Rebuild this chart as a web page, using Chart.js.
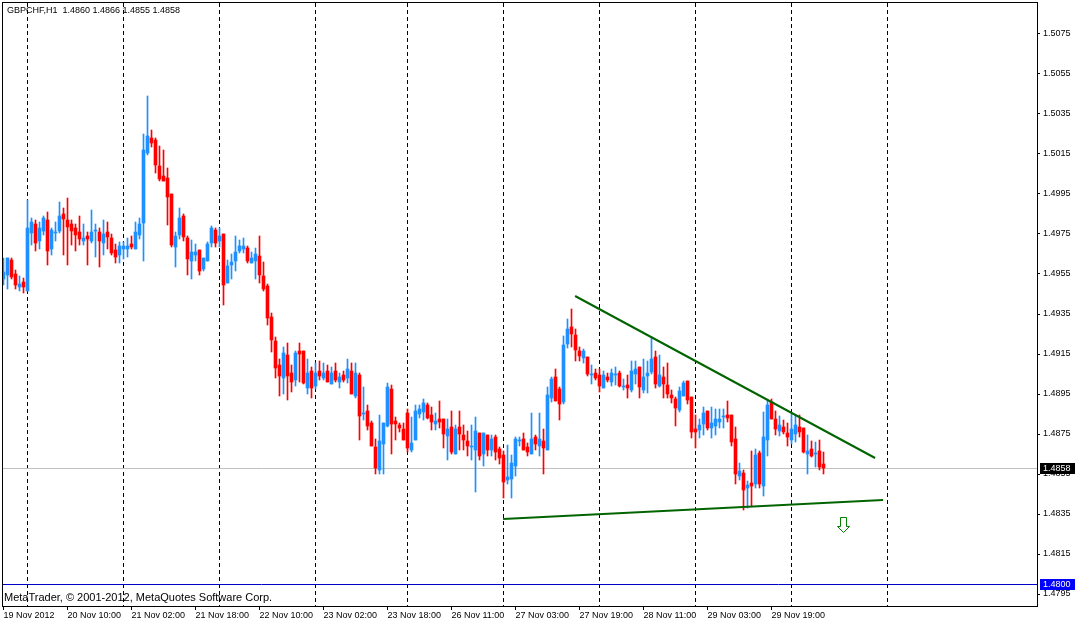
<!DOCTYPE html>
<html>
<head>
<meta charset="utf-8">
<script src="https://cdn.jsdelivr.net/npm/chart.js@4.4.1/dist/chart.umd.min.js"></script>
<style>
  html, body { margin: 0; padding: 0; background: #fff; }
  #wrap { width: 1075px; height: 623px; }
</style>
</head>
<body>
<div id="wrap"><canvas id="chart" width="1075" height="623"></canvas></div>
<script>
// GBPCHF H1 bars, oldest first (bar 0 = 19 Nov 18:00)
const openPrices = [
  1.49525, 1.49545, 1.4962, 1.4955, 1.49485, 1.4951, 1.49465, 1.49755, 1.4980, 1.49715,
  1.49765, 1.4982, 1.49675, 1.49755, 1.49765, 1.4985, 1.4982, 1.4980, 1.4978, 1.4976,
  1.49715, 1.4974, 1.49715, 1.49765, 1.4976, 1.49705, 1.4976, 1.4973, 1.4967, 1.49645,
  1.49675, 1.49675, 1.4970, 1.49675, 1.49745, 1.49805, 1.50155, 1.5023, 1.5022, 1.5009,
  1.5004, 1.5003, 1.4995, 1.49685, 1.49745, 1.4984, 1.4973, 1.49615, 1.49645, 1.4967,
  1.49575, 1.49615, 1.49705, 1.4977, 1.49715, 1.4975, 1.49505, 1.49595, 1.49615, 1.49665,
  1.49675, 1.4968, 1.49605, 1.49615, 1.4964, 1.4954, 1.4949, 1.49335, 1.49215, 1.49095,
  1.4903, 1.49145, 1.49055, 1.4902, 1.49165, 1.49165, 1.4898, 1.49065, 1.4899, 1.49065,
  1.4903, 1.49065, 1.4900, 1.49065, 1.4901, 1.49045, 1.4903, 1.49065, 1.4894, 1.49045,
  1.4885, 1.48865, 1.48805, 1.48685, 1.4857, 1.4870, 1.4879, 1.48975, 1.48815, 1.48795,
  1.48775, 1.48855, 1.4867, 1.4872, 1.4885, 1.4886, 1.48895, 1.48845, 1.4880, 1.48825,
  1.48825, 1.4874, 1.48785, 1.4865, 1.48785, 1.48745, 1.48715, 1.48685, 1.4867, 1.48755,
  1.4865, 1.48745, 1.4867, 1.48735, 1.48675, 1.48645, 1.4852, 1.48525, 1.4859, 1.48715,
  1.48725, 1.48685, 1.4865, 1.48735, 1.4869, 1.48715, 1.4867, 1.4893, 1.49035, 1.48975,
  1.4891, 1.4920, 1.49285, 1.49245, 1.49165, 1.4913, 1.49135, 1.49045, 1.49055, 1.49045,
  1.4898, 1.49035, 1.4901, 1.49045, 1.49055, 1.48985, 1.48995, 1.4897, 1.4905, 1.49085,
  1.4897, 1.4904, 1.4906, 1.49135, 1.4899, 1.49035, 1.48995, 1.48945, 1.48925, 1.4887,
  1.4894, 1.49015, 1.48935, 1.48775, 1.4877, 1.4880, 1.48865, 1.4878, 1.4879, 1.4881,
  1.48835, 1.48845, 1.48845, 1.48725, 1.4854, 1.48555, 1.4848, 1.48505, 1.4850, 1.48655,
  1.4849, 1.4872, 1.4891, 1.48825, 1.48765, 1.48785, 1.48755, 1.4872, 1.4875, 1.48785,
  1.4878, 1.4865, 1.48675, 1.4865, 1.48665, 1.4860
];
const highPrices = [
  1.4963, 1.4963, 1.4963, 1.4957, 1.4954, 1.4953, 1.4992, 1.4983, 1.4982, 1.4981,
  1.4984, 1.4986, 1.4978, 1.4981, 1.4991, 1.4988, 1.4993, 1.4982, 1.4980, 1.4984,
  1.4980, 1.4976, 1.4987, 1.4980, 1.4978, 1.4982, 1.4981, 1.4975, 1.4970, 1.4971,
  1.4971, 1.4973, 1.4974, 1.4981, 1.4983, 1.5025, 1.5044, 1.5027, 1.5023, 1.5019,
  1.5017, 1.5008, 1.4995, 1.4976, 1.4988, 1.4985, 1.4974, 1.4972, 1.4970, 1.4967,
  1.4963, 1.4971, 1.4979, 1.4978, 1.4978, 1.4975, 1.4962, 1.4965, 1.4974, 1.4972,
  1.4973, 1.4969, 1.4966, 1.4968, 1.4974, 1.4961, 1.4950, 1.49355, 1.49235, 1.49125,
  1.49185, 1.49205, 1.49095, 1.49165, 1.49205, 1.49165, 1.49125, 1.49085, 1.49105, 1.49115,
  1.49105, 1.49095, 1.49085, 1.49105, 1.49055, 1.49065, 1.49125, 1.49105, 1.49105, 1.49055,
  1.48985, 1.48895, 1.48815, 1.48725, 1.48845, 1.48805, 1.49005, 1.48995, 1.48835, 1.48805,
  1.48805, 1.48875, 1.48835, 1.48895, 1.48895, 1.48925, 1.48905, 1.48885, 1.48855, 1.48915,
  1.48825, 1.48825, 1.48865, 1.48795, 1.48865, 1.48795, 1.48765, 1.48795, 1.48835, 1.48755,
  1.48755, 1.48745, 1.48745, 1.48745, 1.48685, 1.48665, 1.48695, 1.48645, 1.48735, 1.48735,
  1.48755, 1.48705, 1.48855, 1.48745, 1.48855, 1.48775, 1.48985, 1.49035, 1.49075, 1.48985,
  1.4924, 1.49325, 1.49375, 1.49275, 1.49185, 1.49175, 1.49135, 1.49095, 1.49075, 1.49075,
  1.49065, 1.49055, 1.49075, 1.49085, 1.49065, 1.49025, 1.49045, 1.49115, 1.49115, 1.49085,
  1.49125, 1.49115, 1.49235, 1.49165, 1.49145, 1.49085, 1.49105, 1.4897, 1.48935, 1.48985,
  1.49015, 1.49015, 1.48935, 1.48845, 1.48825, 1.48885, 1.48865, 1.48885, 1.48875, 1.48875,
  1.48875, 1.48915, 1.48845, 1.48785, 1.48605, 1.4857, 1.48515, 1.48665, 1.48675, 1.48665,
  1.4886, 1.4892, 1.48925, 1.48865, 1.4884, 1.4882, 1.48805, 1.4885, 1.48845, 1.48845,
  1.4878, 1.48745, 1.48715, 1.4871, 1.4872, 1.4866
];
const lowPrices = [
  1.49495, 1.49475, 1.49525, 1.49475, 1.49465, 1.49455, 1.49465, 1.49695, 1.49665, 1.49675,
  1.49745, 1.49595, 1.49645, 1.49715, 1.49755, 1.49645, 1.49595, 1.49695, 1.49665, 1.49695,
  1.49695, 1.49595, 1.49705, 1.49635, 1.49585, 1.49645, 1.49675, 1.49645, 1.49605, 1.49605,
  1.49625, 1.49635, 1.49675, 1.49675, 1.49725, 1.49615, 1.50145, 1.50185, 1.50055, 1.50015,
  1.50015, 1.49795, 1.49685, 1.49585, 1.49725, 1.49715, 1.49545, 1.49525, 1.49615, 1.49545,
  1.49565, 1.49615, 1.49685, 1.49685, 1.49685, 1.49395, 1.49505, 1.49525, 1.49565, 1.49655,
  1.49655, 1.49605, 1.49605, 1.49525, 1.49505, 1.49465, 1.49295, 1.4916, 1.4903, 1.4894,
  1.4895, 1.4892, 1.4896, 1.4899, 1.4901, 1.4900, 1.4895, 1.4893, 1.48975, 1.4902,
  1.4902, 1.4901, 1.4900, 1.4901, 1.4898, 1.4901, 1.49005, 1.4895, 1.4893, 1.4872,
  1.4882, 1.4877, 1.4869, 1.4855, 1.4855, 1.4855, 1.48785, 1.4865, 1.4872, 1.4876,
  1.4872, 1.4866, 1.4866, 1.4872, 1.4883, 1.4882, 1.48825, 1.4877, 1.4877, 1.4878,
  1.4868, 1.4862, 1.4865, 1.4865, 1.4867, 1.4867, 1.4864, 1.4862, 1.4846, 1.4862,
  1.4859, 1.4864, 1.4864, 1.4862, 1.4860, 1.4843, 1.4850, 1.4843, 1.4854, 1.4869,
  1.4867, 1.4864, 1.4865, 1.4867, 1.4864, 1.4855, 1.4867, 1.4891, 1.48915, 1.4882,
  1.4890, 1.4918, 1.49185, 1.49115, 1.49115, 1.49105, 1.4904, 1.4900, 1.4902, 1.4896,
  1.4898, 1.4901, 1.4899, 1.48995, 1.48985, 1.4897, 1.4893, 1.4896, 1.4900, 1.4893,
  1.48955, 1.48955, 1.4905, 1.4898, 1.48985, 1.4893, 1.4893, 1.48905, 1.4879, 1.4886,
  1.4894, 1.4890, 1.4873, 1.4868, 1.4873, 1.48745, 1.4877, 1.4873, 1.48745, 1.4878,
  1.4878, 1.4881, 1.4869, 1.4850, 1.4852, 1.4837, 1.4838, 1.4839, 1.4848, 1.4848,
  1.4844, 1.4864, 1.48825, 1.48745, 1.4874, 1.4875, 1.4869, 1.4870, 1.4871, 1.48735,
  1.48655, 1.4855, 1.48635, 1.48585, 1.4857, 1.4855
];
const closePrices = [
  1.4956, 1.4963, 1.49535, 1.49495, 1.4950, 1.49485, 1.4978, 1.4981, 1.49705, 1.4978,
  1.4983, 1.49665, 1.4977, 1.4976, 1.4984, 1.49825, 1.49785, 1.49765, 1.49745, 1.49725,
  1.4973, 1.49725, 1.4976, 1.4977, 1.49715, 1.4975, 1.49735, 1.49655, 1.49635, 1.4969,
  1.4969, 1.4969, 1.49685, 1.4976, 1.4980, 1.5017, 1.5024, 1.50205, 1.50095, 1.50025,
  1.50015, 1.49935, 1.49695, 1.4974, 1.4983, 1.49735, 1.49625, 1.4966, 1.4966, 1.49565,
  1.4963, 1.4970, 1.4978, 1.49705, 1.4974, 1.49495, 1.4959, 1.4961, 1.4966, 1.4969,
  1.4969, 1.49615, 1.4963, 1.4965, 1.49545, 1.49475, 1.4933, 1.4922, 1.4908, 1.4904,
  1.49155, 1.4904, 1.4901, 1.49155, 1.4915, 1.49005, 1.49055, 1.4898, 1.49055, 1.4904,
  1.49055, 1.4901, 1.49055, 1.4902, 1.49035, 1.4902, 1.49075, 1.4895, 1.49055, 1.4884,
  1.48855, 1.4879, 1.4869, 1.4858, 1.48715, 1.48805, 1.48985, 1.4880, 1.4880, 1.4878,
  1.4872, 1.4868, 1.48705, 1.48865, 1.48875, 1.48905, 1.4883, 1.4881, 1.48815, 1.4881,
  1.4875, 1.48775, 1.4866, 1.48775, 1.4875, 1.4872, 1.4869, 1.48685, 1.48765, 1.4864,
  1.48755, 1.4867, 1.48725, 1.4866, 1.4863, 1.4851, 1.48535, 1.48605, 1.48725, 1.48715,
  1.4867, 1.4866, 1.48725, 1.4870, 1.48725, 1.4868, 1.48945, 1.49025, 1.48915, 1.4890,
  1.49195, 1.49275, 1.4925, 1.4917, 1.4914, 1.49165, 1.4905, 1.49045, 1.4903, 1.4899,
  1.49045, 1.4902, 1.49055, 1.49045, 1.4899, 1.48985, 1.4898, 1.49065, 1.49075, 1.48985,
  1.49035, 1.49055, 1.49125, 1.4900, 1.49045, 1.4900, 1.4895, 1.4893, 1.4888, 1.48965,
  1.49005, 1.4892, 1.4876, 1.4876, 1.48795, 1.48855, 1.4878, 1.48805, 1.48825, 1.48825,
  1.48835, 1.4883, 1.4871, 1.4855, 1.48565, 1.4847, 1.48495, 1.4849, 1.48645, 1.4850,
  1.48735, 1.48895, 1.48825, 1.48775, 1.48795, 1.4876, 1.48735, 1.48775, 1.48795, 1.4876,
  1.4866, 1.48665, 1.4864, 1.48655, 1.48585, 1.4858
];

// time axis: bar index of each label, and the label text
const tickBars = [0, 16, 32, 48, 64, 80, 96, 112, 128, 144, 160, 176, 192];
const tickLabels = [
  '19 Nov 2012', '20 Nov 10:00', '21 Nov 02:00', '21 Nov 18:00', '22 Nov 10:00',
  '23 Nov 02:00', '23 Nov 18:00', '26 Nov 11:00', '27 Nov 03:00', '27 Nov 19:00',
  '28 Nov 11:00', '29 Nov 03:00', '29 Nov 19:00'
];
// day separators (bar index of 00:00 of each day)
const separatorBars = [6, 30, 54, 78, 101, 125, 149, 173, 197, 221];
const priceTicks = [1.4795, 1.4815, 1.4835, 1.4855, 1.4875, 1.4895, 1.4915, 1.4935,
  1.4955, 1.4975, 1.4995, 1.5015, 1.5035, 1.5055, 1.5075];

// drawn objects
const upperTrend = [{ x: 142.9, y: 1.4944 }, { x: 217.9, y: 1.4863 }];
const lowerTrend = [{ x: 124.9, y: 1.48325 }, { x: 219.9, y: 1.4842 }];
const levelPrice = 1.4800;
const arrowAt = { x: 210, y: 1.48335 };

const symbol = 'GBPCHF,H1';
const copyright = 'MetaTrader, \u00a9 2001-2012, MetaQuotes Software Corp.';

const BULL = '#1e90ff', BEAR = '#ff0000';
const FONT = '"Liberation Sans", Arial, sans-serif';
const last = openPrices.length - 1;
const bidPrice = closePrices[last];

const barColors = openPrices.map((o, i) => closePrices[i] >= o ? BULL : BEAR);
const wickData = openPrices.map((o, i) => ({ x: i, y: [lowPrices[i], highPrices[i]] }));
const bodyData = openPrices.map((o, i) => ({ x: i, y: [o, closePrices[i]] }));

function priceBox(ctx, y, text, bg) {
  const py = Math.round(y);
  ctx.fillStyle = bg;
  ctx.fillRect(1040, py - 5, 35, 11);
  ctx.fillStyle = '#fff';
  ctx.font = '9px ' + FONT;
  ctx.textBaseline = 'middle';
  ctx.textAlign = 'left';
  ctx.fillText(text, 1043, py + 0.5);
}

const mtOverlay = {
  id: 'mtOverlay',
  beforeDatasetsDraw(chart) {
    const { ctx, chartArea: a, scales: { x, y } } = chart;
    ctx.save();
    ctx.lineWidth = 1;
    ctx.strokeStyle = '#000';
    ctx.setLineDash([4, 3]);
    separatorBars.forEach(b => {
      const px = Math.floor(x.getPixelForValue(b)) + 0.5;
      if (px > a.right) return;
      ctx.beginPath();
      ctx.moveTo(px, a.top);
      ctx.lineTo(px, a.bottom);
      ctx.stroke();
    });
    ctx.setLineDash([]);
    const by = Math.floor(y.getPixelForValue(bidPrice)) + 0.5;
    ctx.strokeStyle = '#c0c0c0';
    ctx.beginPath();
    ctx.moveTo(a.left, by);
    ctx.lineTo(a.right, by);
    ctx.stroke();
    const ly = Math.floor(y.getPixelForValue(levelPrice)) + 0.5;
    ctx.strokeStyle = '#0000c8';
    ctx.beginPath();
    ctx.moveTo(a.left, ly);
    ctx.lineTo(a.right, ly);
    ctx.stroke();
    ctx.restore();
  },
  afterDraw(chart) {
    const { ctx, chartArea: a, scales: { x, y } } = chart;
    ctx.save();
    // frame
    ctx.strokeStyle = '#000';
    ctx.lineWidth = 1;
    ctx.strokeRect(a.left - 0.5, a.top - 0.5, a.right - a.left + 1, a.bottom - a.top + 1);

    // header and copyright
    ctx.fillStyle = '#000';
    ctx.textAlign = 'left';
    ctx.textBaseline = 'middle';
    ctx.font = '9px ' + FONT;
    const ohlc = [openPrices[last], highPrices[last], lowPrices[last], closePrices[last]]
      .map(v => v.toFixed(4)).join(' ');
    ctx.fillText(symbol + '  ' + ohlc, 7, 11);
    ctx.font = '11px ' + FONT;
    ctx.fillText(copyright, 4, 598);

    // arrow object
    const ax = Math.floor(x.getPixelForValue(arrowAt.x)) + 0.5;
    const ay = Math.floor(y.getPixelForValue(arrowAt.y)) + 0.5;
    ctx.beginPath();
    ctx.moveTo(ax - 3, ay);
    ctx.lineTo(ax + 3, ay);
    ctx.lineTo(ax + 3, ay + 9);
    ctx.lineTo(ax + 6, ay + 9);
    ctx.lineTo(ax, ay + 15);
    ctx.lineTo(ax - 6, ay + 9);
    ctx.lineTo(ax - 3, ay + 9);
    ctx.closePath();
    ctx.fillStyle = '#fff';
    ctx.fill();
    ctx.strokeStyle = '#008000';
    ctx.stroke();

    // price labels on the axis
    priceBox(ctx, y.getPixelForValue(bidPrice), bidPrice.toFixed(4), '#000');
    priceBox(ctx, y.getPixelForValue(levelPrice), levelPrice.toFixed(4), '#0000ff');
    ctx.restore();
  }
};

new Chart(document.getElementById('chart'), {
  type: 'bar',
  data: {
    datasets: [
      {
        type: 'line', data: upperTrend, borderColor: '#006400', borderWidth: 2,
        pointRadius: 0, fill: false, tension: 0
      },
      {
        type: 'line', data: lowerTrend, borderColor: '#006400', borderWidth: 2,
        pointRadius: 0, fill: false, tension: 0
      },
      {
        data: bodyData, backgroundColor: barColors, borderWidth: 0,
        grouped: false, barPercentage: 1, categoryPercentage: 1,
        maxBarThickness: 3, minBarLength: 1
      },
      {
        data: wickData, backgroundColor: barColors, borderWidth: 0,
        grouped: false, barPercentage: 1, categoryPercentage: 1,
        maxBarThickness: 1
      }
    ]
  },
  options: {
    responsive: false,
    animation: false,
    devicePixelRatio: 1,
    layout: { padding: { left: 3, top: 3, right: 0, bottom: 0 } },
    plugins: { legend: { display: false }, tooltip: { enabled: false } },
    events: [],
    scales: {
      x: {
        type: 'linear',
        position: 'bottom',
        min: -0.125,
        max: 258.375,
        offset: false,
        grid: { display: true, drawOnChartArea: false, drawTicks: true, tickLength: 4, color: '#000', offset: false },
        border: { display: false },
        ticks: {
          autoSkip: false, maxRotation: 0, minRotation: 0, align: 'start', padding: 0,
          color: '#000', font: { family: FONT, size: 9 },
          callback: (v, i) => tickLabels[i]
        },
        afterBuildTicks: s => { s.ticks = tickBars.map(v => ({ value: v })); },
        afterFit: s => { s.height = 17; s.paddingLeft = 0; s.paddingRight = 0; }
      },
      y: {
        type: 'linear',
        position: 'right',
        min: 1.4789,
        max: 1.50905,
        beginAtZero: false,
        grid: { display: true, drawOnChartArea: false, drawTicks: true, tickLength: 3, color: '#000' },
        border: { display: false },
        ticks: {
          padding: 3, color: '#000', font: { family: FONT, size: 9 },
          callback: v => Number(v).toFixed(4)
        },
        afterBuildTicks: s => { s.ticks = priceTicks.map(v => ({ value: v })); },
        afterFit: s => { s.width = 38; s.paddingTop = 0; s.paddingBottom = 0; }
      }
    }
  },
  plugins: [mtOverlay]
});
</script>
</body>
</html>
